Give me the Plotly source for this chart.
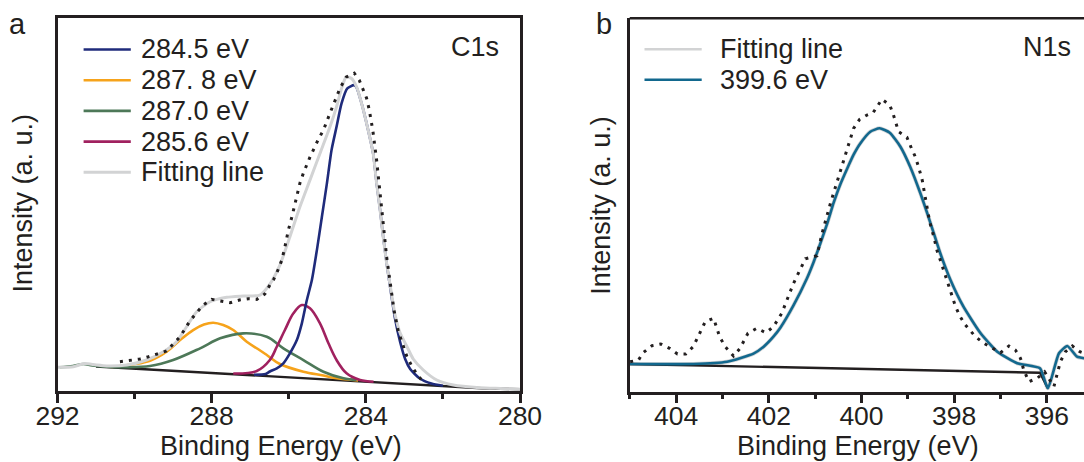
import plotly.graph_objects as go

W, H = 1084, 462

# ---------------- C1s (panel a) ----------------
# measured spectrum
c1s_data_be = [290.38, 290.12, 289.86, 289.64, 289.17, 288.82, 288.56, 288.39, 288.22, 288.00,
               287.75, 287.52, 287.28, 287.05, 286.83, 286.62, 286.49, 286.40, 286.31, 286.18,
               286.10, 286.01, 285.92, 285.84, 285.71, 285.62, 285.45, 285.23, 285.10, 284.95,
               284.80, 284.67, 284.51, 284.30, 284.17, 284.07, 283.98, 283.91, 283.82, 283.72,
               283.63, 283.55, 283.46, 283.37, 283.27, 283.16, 283.05, 282.94, 282.81, 282.68,
               282.55]
c1s_data_int = [29.3, 31.0, 32.0, 34.3, 40.0, 54.3, 70.3, 78.3, 86.0, 91.7,
                90.0, 88.3, 91.0, 92.3, 91.7, 97.0, 106.0, 111.0, 118.0, 131.0,
                144.0, 161.0, 174.0, 188.0, 208.0, 218.0, 234.0, 252.0, 261.0, 276.0,
                291.0, 303.0, 314.0, 318.0, 311.0, 301.0, 293.0, 281.0, 261.0, 231.0,
                201.0, 168.0, 134.0, 108.0, 81.0, 60.0, 48.0, 35.0, 25.0, 17.0,
                11.0]

# envelope of the fit
c1s_fit_be = [292.0, 291.59, 291.30, 291.0, 290.72, 290.20, 289.69, 289.25, 288.91, 288.65,
              288.39, 288.04, 287.61, 287.18, 286.75, 286.49, 286.23, 285.97, 285.71, 285.45,
              285.19, 284.93, 284.76, 284.63, 284.51, 284.37, 284.24, 284.11, 283.94, 283.81,
              283.72, 283.63, 283.55, 283.46, 283.35, 283.24, 283.11, 282.94, 282.77, 282.51,
              282.16, 281.73, 281.04, 280.50, 280.0]
c1s_fit_int = [23.7, 24.3, 27.5, 26.0, 25.0, 26.0, 31.0, 39.3, 49.3, 64.3,
               79.3, 89.3, 93.7, 95.0, 96.0, 107.0, 126.0, 154.3, 184.3, 211.0,
               237.7, 264.3, 284.3, 302.7, 314.3, 312.7, 304.3, 287.7, 261.0, 237.7,
               207.7, 181.0, 154.3, 127.7, 101.0, 76.0, 58.0, 45.0, 32.0, 21.0,
               11.0, 6.0, 3.3, 2.5, 1.7]

# fitted components
c1s_2845_be = [286.90, 286.60, 286.49, 286.31, 286.14, 285.97, 285.79, 285.66, 285.53, 285.40,
               285.27, 285.14, 285.01, 284.89, 284.76, 284.63, 284.48, 284.31, 284.25, 284.11,
               283.94, 283.81, 283.72, 283.63, 283.55, 283.46, 283.35, 283.24, 283.11, 282.98,
               282.85, 282.60, 282.30, 282.00]
c1s_2845_int = [16.3, 17.0, 19.5, 22.7, 27.7, 37.7, 51.0, 67.7, 91.0, 111.0,
                141.0, 174.3, 207.7, 241.0, 264.3, 287.7, 302.7, 306.0, 304.3, 287.7,
                261.0, 237.7, 207.7, 181.0, 154.3, 127.7, 99.0, 72.0, 49.0, 32.0,
                22.0, 12.5, 7.5, 5.2]

c1s_2878_be = [290.60, 290.03, 289.60, 289.17, 288.82, 288.48, 288.20, 287.96, 287.70, 287.44,
               287.09, 286.80, 286.57, 286.23, 285.62, 285.10, 284.76, 284.20]
c1s_2878_int = [24.0, 26.7, 30.3, 39.3, 51.0, 61.0, 66.5, 68.3, 66.0, 61.0,
                49.3, 42.0, 36.0, 27.0, 19.3, 15.5, 12.7, 10.5]

c1s_2870_be = [291.94, 291.60, 291.33, 291.10, 290.72, 290.20, 289.60, 289.00, 288.30, 287.78,
               287.18, 286.57, 286.14, 285.62, 285.10, 284.58, 284.24]
c1s_2870_int = [23.7, 25.0, 27.0, 25.5, 24.3, 23.8, 25.0, 31.0, 42.7, 52.7,
                57.7, 54.3, 42.7, 31.0, 19.3, 12.7, 11.0]

c1s_2856_be = [287.44, 286.83, 286.49, 286.31, 286.10, 285.88, 285.66, 285.45, 285.19, 284.97,
               284.76, 284.50, 284.15, 283.80]
c1s_2856_int = [17.5, 20.0, 31.0, 44.3, 61.0, 77.7, 86.0, 82.7, 67.7, 47.7,
                31.0, 17.7, 11.0, 9.3]

# linear background
c1s_bg_be = [291.0, 281.0, 280.0]
c1s_bg_int = [24.5, 2.8, 1.8]

c1s_labels = ["284.5 eV", "287. 8 eV", "287.0 eV", "285.6 eV", "Fitting line"]
c1s_ticks = [292, 288, 284, 280]
c1s_minor_ticks = [290, 286, 282]

# ---------------- N1s (panel b) ----------------
n1s_data_be = [404.99, 404.81, 404.71, 404.52, 404.33, 404.14, 403.97, 403.79, 403.63, 403.50,
               403.37, 403.19, 403.06, 402.94, 402.76, 402.62, 402.45, 402.26, 402.06, 401.90,
               401.72, 401.47, 401.21, 400.96, 400.85, 400.67, 400.49, 400.31, 400.17, 400.04,
               399.88, 399.75, 399.65, 399.56, 399.39, 399.31, 399.20, 399.02, 398.93, 398.84,
               398.77, 398.69, 398.64, 398.59, 398.53, 398.44, 398.37, 398.30, 398.23, 398.15,
               398.08, 397.97, 397.87, 397.76, 397.54, 397.36, 397.00, 396.82, 396.68, 396.57,
               396.50, 396.39, 396.21, 396.05, 395.85, 395.71, 395.60, 395.45, 395.29, 395.19]
n1s_data_int = [30.0, 31.7, 39.0, 46.0, 47.7, 43.4, 37.7, 37.7, 45.0, 57.7,
                70.0, 73.4, 55.0, 45.0, 35.7, 43.4, 58.4, 63.4, 59.0, 65.0,
                78.4, 108.0, 133.0, 136.0, 158.4, 188.4, 215.0, 241.7, 263.4, 272.4,
                276.7, 279.0, 286.7, 292.4, 286.7, 276.7, 260.0, 254.4, 244.4, 235.0,
                225.0, 211.7, 198.4, 185.0, 170.0, 155.0, 141.0, 131.7, 121.7, 111.7,
                101.7, 85.0, 75.0, 66.7, 55.0, 48.4, 39.0, 45.7, 41.7, 33.4,
                21.7, 10.0, 13.4, 20.0, 5.0, 30.0, 40.0, 45.7, 40.0, 38.4]

n1s_peak_be = [405.0, 403.63, 402.90, 402.33, 402.11, 401.90, 401.75, 401.47, 401.18, 401.03,
               400.89, 400.74, 400.60, 400.46, 400.31, 400.17, 400.03, 399.81, 399.61, 399.39,
               399.16, 398.95, 398.73, 398.51, 398.30, 398.08, 397.80, 397.43, 397.07, 396.64,
               396.15, 395.98, 395.74, 395.56, 395.35, 395.19]
n1s_peak_int = [27.7, 27.7, 30.0, 38.0, 45.0, 55.0, 64.0, 86.0, 113.0, 130.0,
                148.0, 168.0, 189.0, 207.0, 223.0, 237.0, 248.0, 260.0, 263.4, 259.0,
                245.0, 225.0, 198.4, 168.4, 138.4, 111.7, 85.0, 58.4, 40.0, 28.4,
                23.4, 3.4, 38.4, 45.7, 35.0, 33.4]

n1s_bg_be = [405.0, 396.15, 395.98]
n1s_bg_int = [27.7, 19.0, 3.4]

n1s_labels = ["Fitting line", "399.6 eV"]
n1s_ticks = [404, 402, 400, 398, 396]
n1s_minor_ticks = [405, 403, 401, 399, 397]

# ---------------- styling ----------------
INK = "#231f20"
NAVY = "#1f2b7b"
ORANGE = "#f6a31b"
GREEN = "#4d7858"
MAGENTA = "#a0215f"
GREY = "#d2d3d4"
TEAL = "#12688e"
FONT = "Arial, Liberation Sans, Helvetica, sans-serif"
LW = 2.6


def px(x):
    return x / W


def py(y):
    return 1 - y / H


fig = go.Figure()


def add_line(x, y, color, width, xa, ya, dash=None, shape="linear", smoothing=1.0):
    line = dict(color=color, width=width, dash=dash, shape=shape)
    if shape == "spline":
        line["smoothing"] = smoothing
    fig.add_trace(go.Scatter(
        x=x, y=y, mode="lines", xaxis=xa, yaxis=ya, showlegend=False,
        hoverinfo="skip", line=line))


# panel a traces
add_line(c1s_bg_be, c1s_bg_int, INK, 2.4, "x", "y")
add_line(c1s_2878_be, c1s_2878_int, ORANGE, LW, "x", "y", shape="spline")
add_line(c1s_2870_be, c1s_2870_int, GREEN, LW, "x", "y", shape="spline")
add_line(c1s_2856_be, c1s_2856_int, MAGENTA, LW, "x", "y", shape="spline")
add_line(c1s_2845_be, c1s_2845_int, NAVY, LW, "x", "y", shape="spline", smoothing=0.6)
add_line(c1s_fit_be, c1s_fit_int, GREY, 3.0, "x", "y", shape="spline", smoothing=0.6)
add_line(c1s_data_be, c1s_data_int, INK, 3.0, "x", "y", dash="3px,6px")

# panel b traces
add_line(n1s_peak_be, n1s_peak_int, GREY, 4.0, "x2", "y2", shape="spline", smoothing=0.5)
add_line(n1s_bg_be, n1s_bg_int, INK, 2.4, "x2", "y2")
add_line(n1s_peak_be, n1s_peak_int, TEAL, LW, "x2", "y2", shape="spline", smoothing=0.5)
add_line(n1s_data_be, n1s_data_int, INK, 3.0, "x2", "y2", dash="3px,6px")

axis_common = dict(showgrid=False, zeroline=False, showline=True, linecolor=INK,
                   linewidth=2.5, tickcolor=INK,
                   tickfont=dict(family=FONT, size=26.5, color=INK))

fig.update_layout(
    width=W, height=H,
    margin=dict(l=0, r=0, t=0, b=0, pad=0, autoexpand=False),
    paper_bgcolor="white", plot_bgcolor="white", showlegend=False,
    font=dict(family=FONT, color=INK),
    xaxis=dict(domain=[px(57.5), px(520)], range=[292, 280], anchor="y", mirror=True,
               ticks="outside", ticklen=9, tickwidth=2.5, tickvals=c1s_ticks,
               ticklabelstandoff=-10, automargin=False,
               minor=dict(tickvals=c1s_minor_ticks, ticks="outside", ticklen=5,
                          tickwidth=2.5, tickcolor=INK),
               **axis_common),
    yaxis=dict(domain=[py(391), py(18.2)], range=[0, 373], anchor="x", mirror=True,
               ticks="", showticklabels=False, automargin=False, **axis_common),
    xaxis2=dict(domain=[px(629.7), 1.0], range=[405, 395.2], anchor="y2",
                ticks="outside", ticklen=9, tickwidth=2.5, tickvals=n1s_ticks,
                ticklabelstandoff=-10, automargin=False,
                minor=dict(tickvals=n1s_minor_ticks, ticks="outside", ticklen=5,
                           tickwidth=2.5, tickcolor=INK),
                **axis_common),
    yaxis2=dict(domain=[py(391.7), py(18.3)], range=[0, 373.4], anchor="x2",
                ticks="", showticklabels=False, automargin=False, **axis_common),
)

# top frame edge of panel b (right edge runs off the canvas)
fig.add_shape(type="line", xref="x2 domain", yref="y2 domain", x0=0, x1=1, y0=1, y1=1,
              line=dict(color=INK, width=2.5))

# legend of panel a
leg_a_rows = [49.5, 80.2, 110.9, 141.6, 172.3]
leg_a_colors = [NAVY, ORANGE, GREEN, MAGENTA, GREY]
for lab, col, yy in zip(c1s_labels, leg_a_colors, leg_a_rows):
    fig.add_shape(type="line", xref="paper", yref="paper", x0=px(83.6), x1=px(130.8),
                  y0=py(yy), y1=py(yy), line=dict(color=col, width=LW if col != GREY else 3))
    fig.add_annotation(text=lab, xref="paper", yref="paper", x=px(139.4), y=py(yy),
                       xanchor="left", yanchor="middle", showarrow=False,
                       font=dict(family=FONT, size=27, color=INK))

# legend of panel b
leg_b_rows = [49.3, 79.8]
leg_b_colors = [GREY, TEAL]
for lab, col, yy in zip(n1s_labels, leg_b_colors, leg_b_rows):
    fig.add_shape(type="line", xref="paper", yref="paper", x0=px(644.5), x1=px(701.7),
                  y0=py(yy), y1=py(yy), line=dict(color=col, width=LW))
    fig.add_annotation(text=lab, xref="paper", yref="paper", x=px(717.5), y=py(yy),
                       xanchor="left", yanchor="middle", showarrow=False,
                       font=dict(family=FONT, size=27, color=INK))

# core level tags, panel letters and axis titles
texts = [
    ("C1s", 500.9, 47.0, "right", 0, 27),
    ("N1s", 1073.3, 47.0, "right", 0, 27),
    ("a", 17.5, 24.0, "center", 0, 29),
    ("b", 603.5, 24.0, "center", 0, 29),
    ("Binding Energy (eV)", 280.6, 446.0, "center", 0, 27),
    ("Binding Energy (eV)", 858.3, 446.0, "center", 0, 27),
    ("Intensity (a. u.)", 23.2, 203.3, "center", -90, 27),
    ("Intensity (a. u.)", 600.8, 205.0, "center", -90, 27),
]
for t, x, y, anc, ang, sz in texts:
    fig.add_annotation(text=t, xref="paper", yref="paper", x=px(x), y=py(y),
                       xanchor=anc, yanchor="middle", textangle=ang, showarrow=False,
                       font=dict(family=FONT, size=sz, color=INK))

fig.write_html("out.html")
